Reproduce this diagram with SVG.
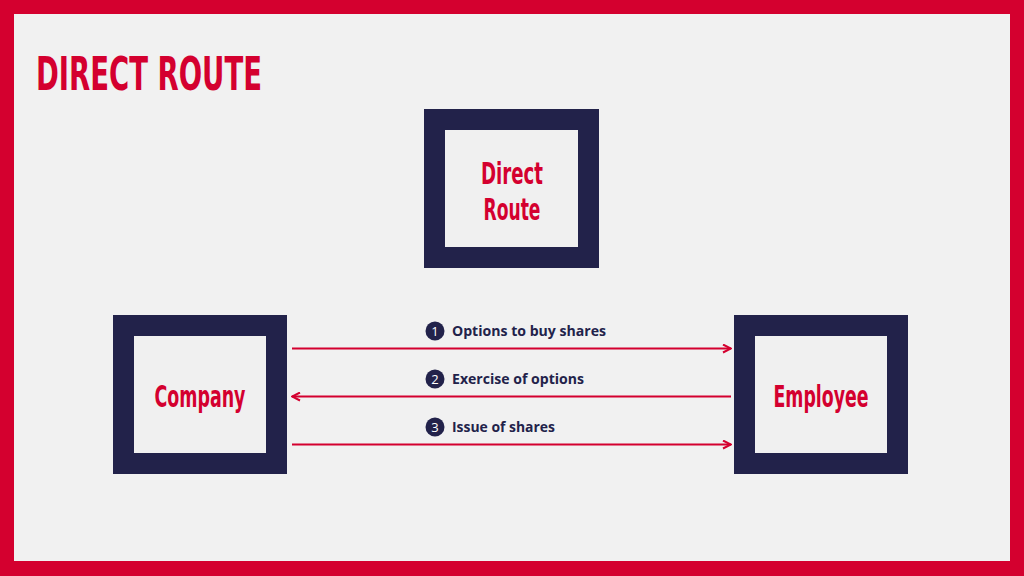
<svg xmlns="http://www.w3.org/2000/svg" width="1024" height="576" viewBox="0 0 1024 576">
<defs>
<style>
.box{fill:#f0f0f0;stroke:#22224a;stroke-width:21}
.ttl{font-family:"DejaVu Sans Condensed","DejaVu Sans",sans-serif;font-weight:bold;fill:#d4002f}
.lbl{font-family:"Open Sans",Lato,sans-serif;font-weight:bold;font-size:14.5px;fill:#22224a}
.num{font-family:"Open Sans",Lato,sans-serif;font-size:13px;fill:#ffffff;text-anchor:middle}
.arr{stroke:#d4002f;stroke-width:2;fill:none}
</style>
<marker id="ah" viewBox="0 0 10 10" refX="9" refY="5" markerWidth="10" markerHeight="10" markerUnits="userSpaceOnUse" orient="auto-start-reverse">
<path d="M1,1 L9,5 L1,9" fill="none" stroke="#d4002f" stroke-width="2"/>
</marker>
</defs>
<rect x="0" y="0" width="1024" height="576" fill="#d4002f"/>
<rect x="14" y="14" width="996" height="547" fill="#f1f1f1"/>
<text class="ttl" x="36" y="90" font-size="47" textLength="226" lengthAdjust="spacingAndGlyphs">DIRECT ROUTE</text>
<g id="direct-route">
<rect class="box" x="434.5" y="119.5" width="154" height="138"/>
<text class="ttl" x="512" y="184" font-size="30" text-anchor="middle" textLength="62" lengthAdjust="spacingAndGlyphs">Direct</text>
<text class="ttl" x="512" y="220" font-size="30" text-anchor="middle" textLength="57" lengthAdjust="spacingAndGlyphs">Route</text>
</g>
<g id="company">
<rect class="box" x="123.5" y="325.5" width="153" height="138"/>
<text class="ttl" x="200" y="407" font-size="30" text-anchor="middle" textLength="91" lengthAdjust="spacingAndGlyphs">Company</text>
</g>
<g id="employee">
<rect class="box" x="744.5" y="325.5" width="153" height="138"/>
<text class="ttl" x="821" y="407" font-size="30" text-anchor="middle" textLength="95" lengthAdjust="spacingAndGlyphs">Employee</text>
</g>
<g id="connectors">
<line class="arr" x1="292" y1="348.5" x2="731" y2="348.5" marker-end="url(#ah)"/>
<line class="arr" x1="731" y1="396.5" x2="292" y2="396.5" marker-end="url(#ah)"/>
<line class="arr" x1="292" y1="444.5" x2="731" y2="444.5" marker-end="url(#ah)"/>
</g>
<g id="labels">
<circle cx="435" cy="331" r="9.5" fill="#22224a"/>
<text class="num" x="435" y="335.5">1</text>
<text class="lbl" x="452" y="335.5" textLength="154" lengthAdjust="spacingAndGlyphs">Options to buy shares</text>
<circle cx="435" cy="379" r="9.5" fill="#22224a"/>
<text class="num" x="435" y="383.5">2</text>
<text class="lbl" x="452" y="383.5" textLength="132" lengthAdjust="spacingAndGlyphs">Exercise of options</text>
<circle cx="435" cy="427" r="9.5" fill="#22224a"/>
<text class="num" x="435" y="431.5">3</text>
<text class="lbl" x="452" y="431.5" textLength="103" lengthAdjust="spacingAndGlyphs">Issue of shares</text>
</g>
</svg>
